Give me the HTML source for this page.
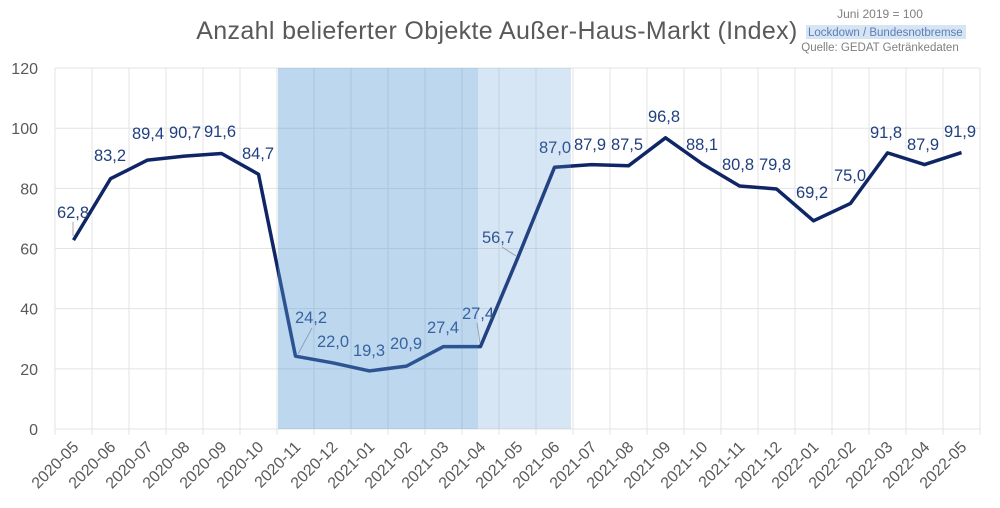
<!DOCTYPE html>
<html><head><meta charset="utf-8"><style>
body{margin:0;background:#fff}
svg{display:block;font-family:"Liberation Sans","DejaVu Sans",sans-serif}
</style></head><body>
<svg width="1000" height="508" viewBox="0 0 1000 508" xmlns="http://www.w3.org/2000/svg">
<rect width="1000" height="508" fill="#fff"/>
<text x="497" y="39" font-size="25" fill="#595959" text-anchor="middle" letter-spacing="0.35">Anzahl belieferter Objekte Außer-Haus-Markt (Index)</text>
<text x="880" y="18" font-size="12" fill="#7f7f7f" text-anchor="middle">Juni 2019 = 100</text>
<rect x="806" y="25" width="160" height="14" fill="#d6e4f4"/>
<text x="808" y="36" font-size="11.5" fill="#5b7fb5">Lockdown / Bundesnotbremse</text>
<text x="880" y="51" font-size="11.5" fill="#7f7f7f" text-anchor="middle">Quelle: GEDAT Getränkedaten</text>
<g id="grid" stroke="#e3e3e3" stroke-width="1"></g>
<g id="ylab" font-size="16" fill="#595959" text-anchor="end"></g>
<g id="xlab" font-size="16" fill="#595959" text-anchor="end"></g>
<polyline id="line" fill="none" stroke="#0f2566" stroke-width="3.5" stroke-linejoin="round"/>
<g id="lead" stroke="#aaa" stroke-width="1"></g>
<g id="dl" font-size="16.5" fill="#203f80" text-anchor="middle"></g>
<rect x="278" y="68" width="200" height="361" fill="#5b9bd5" opacity="0.4"/>
<rect x="478" y="68" width="93" height="361" fill="#5b9bd5" opacity="0.25"/>
</svg>
<script>
const ns="http://www.w3.org/2000/svg";
function el(p,t,a,txt){const e=document.createElementNS(ns,t);for(const k in a)e.setAttribute(k,a[k]);if(txt!=null)e.textContent=txt;document.getElementById(p).appendChild(e);return e;}
const y=v=>429-v*3.008, L=55, W=37;
for(let v=0;v<=120;v+=20){el("grid","line",{x1:L,x2:980,y1:y(v),y2:y(v)});el("ylab","text",{x:38,y:y(v)+6},String(v));}
for(let i=0;i<=25;i++){el("grid","line",{x1:L+i*W,x2:L+i*W,y1:68,y2:435});}
const labs=["2020-05","2020-06","2020-07","2020-08","2020-09","2020-10","2020-11","2020-12","2021-01","2021-02","2021-03","2021-04","2021-05","2021-06","2021-07","2021-08","2021-09","2021-10","2021-11","2021-12","2022-01","2022-02","2022-03","2022-04","2022-05"];
const vals=[62.8,83.2,89.4,90.7,91.6,84.7,24.2,22.0,19.3,20.9,27.4,27.4,56.7,87.0,87.9,87.5,96.8,88.1,80.8,79.8,69.2,75.0,91.8,87.9,91.9];
const lp=[[73,212],[110,155],[148,133],[185,132],[220,131],[258,153],[311,317],[333,341],[369,350],[406,343],[443,327],[478,313],[498,237],[555,147],[590,144],[627,144],[664,116],[702,144],[738,164],[775,164],[812,192],[850,175],[886,132],[923,144],[960,131]];
let pts=[];
labs.forEach((l,i)=>{const cx=L+W/2+i*W;pts.push(cx+","+y(vals[i]));
 const X=cx+6,Y=448;el("xlab","text",{x:X,y:Y,transform:`rotate(-45 ${X} ${Y})`},l);
 el("dl","text",{x:lp[i][0],y:lp[i][1]+6},vals[i].toFixed(1).replace(".",","));});
document.getElementById("line").setAttribute("points",pts.join(" "));
el("lead","line",{x1:73,y1:222,x2:73,y2:236});
el("lead","line",{x1:502,y1:247,x2:516,y2:256});
el("lead","line",{x1:312,y1:328,x2:298,y2:354});
el("lead","line",{x1:477,y1:323,x2:480,y2:343});
</script>
</body></html>
